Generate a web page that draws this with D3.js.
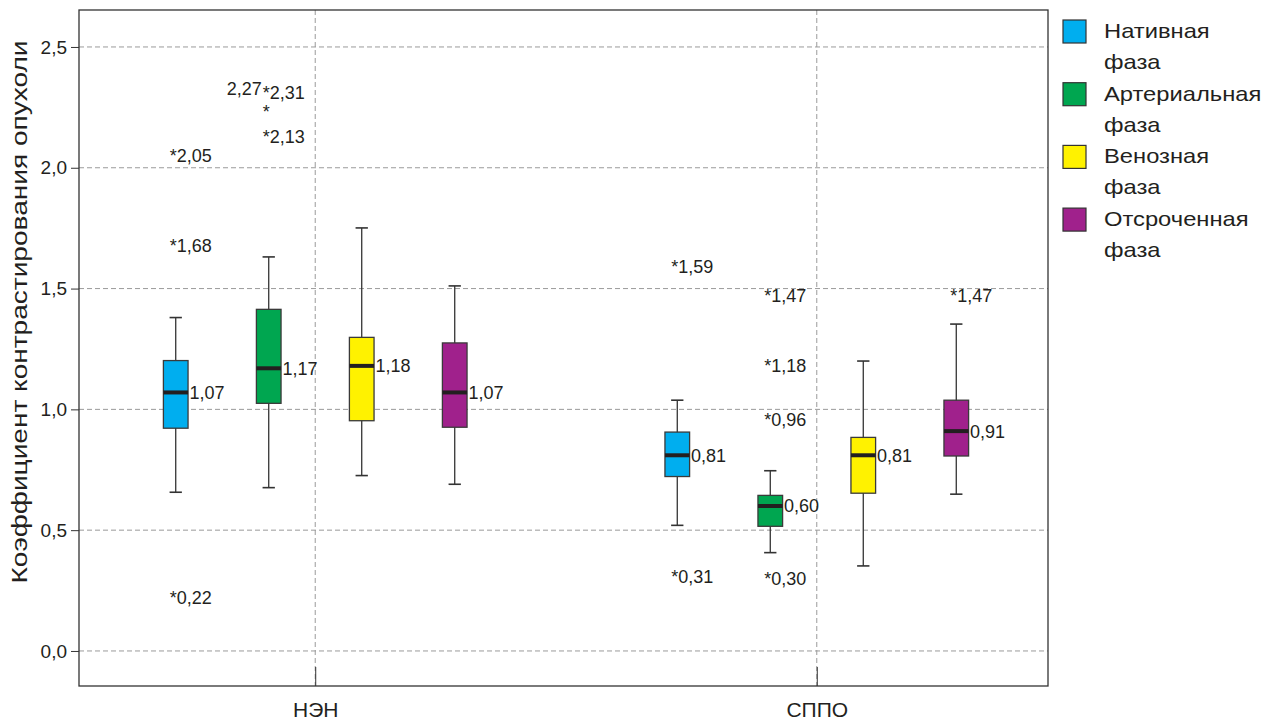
<!DOCTYPE html>
<html><head><meta charset="utf-8">
<script src="https://cdn.jsdelivr.net/npm/d3@7"></script>
<style>body{margin:0;background:#fff}svg{display:block}</style>
</head><body>
<svg id="c" width="1266" height="719"></svg>
<script>
const groups = ["НЭН", "СППО"];
const phases = ["Нативная фаза", "Артериальная фаза", "Венозная фаза", "Отсроченная фаза"];
const colors = ["#00AEEF", "#00A650", "#FFF200", "#A0218C"];
const yTicks = [0, 0.5, 1.0, 1.5, 2.0, 2.5];
// per box, order: НЭН x 4 phases, СППО x 4 phases
const boxGroup = ["НЭН","НЭН","НЭН","НЭН","СППО","СППО","СППО","СППО"];
const boxPhase = [0,1,2,3,0,1,2,3];
const whiskerLow  = [0.657, 0.676, 0.726, 0.690, 0.520, 0.407, 0.352, 0.649];
const q1          = [0.922, 1.025, 0.953, 0.926, 0.722, 0.516, 0.653, 0.807];
const median      = [1.07, 1.17, 1.18, 1.07, 0.81, 0.60, 0.81, 0.91];
const q3          = [1.202, 1.414, 1.298, 1.275, 0.906, 0.644, 0.884, 1.038];
const whiskerHigh = [1.380, 1.631, 1.751, 1.511, 1.038, 0.746, 1.200, 1.353];
// outliers
const outGroup = ["НЭН","НЭН","НЭН","НЭН","НЭН","НЭН","СППО","СППО","СППО","СППО","СППО","СППО","СППО"];
const outPhase = [0,0,0,1,1,1,0,0,1,1,1,1,3];
const outValue = [2.05,1.68,0.22,2.31,2.27,2.13,1.59,0.31,1.47,1.18,0.96,0.30,1.47];

const fmt = v => d3.format(".2f")(v).replace(".", ",");
const fmt1 = v => d3.format(".1f")(v).replace(".", ",");
const FONT = "'Liberation Sans', Arial, Helvetica, sans-serif";
const TXT = "#231f20";

const svg = d3.select("#c");
const L = 79, R = 1048, T = 10, B = 686;

const y = d3.scaleLinear().domain([-0.145, 2.653]).range([B, T]);
const x = d3.scalePoint().domain(groups).range([L + 2, R + 3]).padding(0.467).align(0.5);
const xi = d3.scaleBand().domain(phases).range([-186, 186]);
const bw = xi.bandwidth() * 0.265;
const cx = (g, p) => x(g) + xi(phases[p]) + xi.bandwidth() / 2;

// grid
svg.append("g").selectAll("line").data(yTicks).join("line")
  .attr("x1", L).attr("x2", R).attr("y1", d => y(d)).attr("y2", d => y(d))
  .attr("stroke", "#9a9a9a").attr("stroke-dasharray", "5,3").attr("stroke-width", 1);
svg.append("g").selectAll("line").data(groups).join("line")
  .attr("x1", d => x(d)).attr("x2", d => x(d)).attr("y1", T).attr("y2", B)
  .attr("stroke", "#9a9a9a").attr("stroke-dasharray", "5,3").attr("stroke-width", 1);

// frame
svg.append("rect").attr("x", L).attr("y", T).attr("width", R - L).attr("height", B - T)
  .attr("fill", "none").attr("stroke", "#333").attr("stroke-width", 1.3);

// y axis
const ya = svg.append("g").attr("transform", `translate(${L},0)`)
  .call(d3.axisLeft(y).tickValues(yTicks).tickFormat(fmt1).tickSize(8).tickPadding(4));
ya.select(".domain").remove();
ya.selectAll("line").attr("stroke", "#333");
ya.selectAll("text").attr("font-family", FONT).attr("font-size", 19).attr("fill", TXT);

// x axis (ticks inward)
const xa = svg.append("g").attr("transform", `translate(0,${B})`)
  .call(d3.axisBottom(x).tickSize(-19).tickPadding(0));
xa.select(".domain").remove();
xa.selectAll("line").attr("stroke", "#333");
xa.selectAll("text").attr("font-family", FONT).attr("font-size", 21).attr("fill", TXT)
  .attr("y", 30.5).attr("dy", "0");

// y label
svg.append("text").attr("transform", `translate(27,312) rotate(-90)`)
  .attr("text-anchor", "middle").attr("font-family", FONT).attr("font-size", 22)
  .attr("textLength", 543).attr("lengthAdjust", "spacingAndGlyphs")
  .attr("fill", TXT).text("Коэффициент контрастирования опухоли");

// boxes
const idx = d3.range(boxGroup.length);
const gB = svg.append("g");
idx.forEach(i => {
  const c = cx(boxGroup[i], boxPhase[i]);
  const g = gB.append("g");
  g.append("line").attr("x1", c).attr("x2", c).attr("y1", y(whiskerLow[i])).attr("y2", y(whiskerHigh[i]))
    .attr("stroke", "#333").attr("stroke-width", 1.3);
  [whiskerLow[i], whiskerHigh[i]].forEach(v => {
    g.append("line").attr("x1", c - bw / 4).attr("x2", c + bw / 4).attr("y1", y(v)).attr("y2", y(v))
      .attr("stroke", "#333").attr("stroke-width", 1.6);
  });
  g.append("rect").attr("x", c - bw / 2).attr("y", y(q3[i])).attr("width", bw)
    .attr("height", y(q1[i]) - y(q3[i])).attr("fill", colors[boxPhase[i]])
    .attr("stroke", "#3a3a3a").attr("stroke-width", 1.3);
  g.append("line").attr("x1", c - bw / 2).attr("x2", c + bw / 2).attr("y1", y(median[i])).attr("y2", y(median[i]))
    .attr("stroke", TXT).attr("stroke-width", 4);
  g.append("text").attr("x", c + bw / 2 + 1.5).attr("y", y(median[i])).attr("dy", "0.36em")
    .attr("font-family", FONT).attr("font-size", 18).attr("fill", TXT).text(fmt(median[i]));
});

// outliers
const gO = svg.append("g").attr("font-family", FONT).attr("font-size", 18).attr("fill", TXT);
const oIdx = d3.range(outValue.length);
oIdx.forEach(i => {
  const c = cx(outGroup[i], outPhase[i]) - 6;
  // a close higher outlier in the same box -> put this label to its left
  const near = oIdx.find(j => j !== i && outGroup[j] === outGroup[i] && outPhase[j] === outPhase[i]
    && outValue[j] > outValue[i] && outValue[j] - outValue[i] < 0.08);
  if (near !== undefined) {
    gO.append("text").attr("x", c).attr("y", y(outValue[i])).attr("dy", "0.87em").text("*");
    gO.append("text").attr("x", c - 1).attr("y", y(outValue[near])).attr("dy", "0.1em")
      .attr("text-anchor", "end").text(fmt(outValue[i]));
  } else {
    gO.append("text").attr("x", c).attr("y", y(outValue[i])).attr("dy", "0.36em").text("*" + fmt(outValue[i]));
  }
});

// legend
const lg = svg.append("g").attr("font-family", FONT).attr("font-size", 21).attr("fill", TXT);
phases.forEach((p, k) => {
  const top = 20 + k * 62.7;
  lg.append("rect").attr("x", 1063).attr("y", top).attr("width", 23).attr("height", 23)
    .attr("fill", colors[k]).attr("stroke", "#333").attr("stroke-width", 1.2);
  p.split(" ").forEach((w, n) => {
    lg.append("text").attr("x", 1104).attr("y", top + 18 + n * 31).text(w);
  });
});
lg.selectAll("text").each(function () {
  const w = this.getComputedTextLength();
  d3.select(this).attr("textLength", w * 1.13).attr("lengthAdjust", "spacingAndGlyphs");
});
</script>
</body></html>
